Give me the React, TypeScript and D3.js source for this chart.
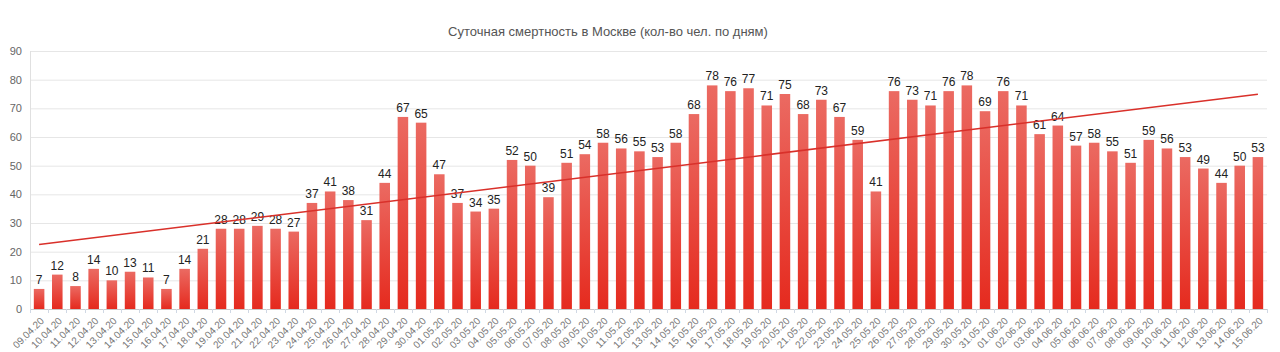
import React, { useEffect, useRef } from "react";
import * as d3 from "d3";

const dates = [
  "09.04.20", "10.04.20", "11.04.20", "12.04.20", "13.04.20", "14.04.20", "15.04.20", "16.04.20",
  "17.04.20", "18.04.20", "19.04.20", "20.04.20", "21.04.20", "22.04.20", "23.04.20", "24.04.20",
  "25.04.20", "26.04.20", "27.04.20", "28.04.20", "29.04.20", "30.04.20", "01.05.20", "02.05.20",
  "03.05.20", "04.05.20", "05.05.20", "06.05.20", "07.05.20", "08.05.20", "09.05.20", "10.05.20",
  "11.05.20", "12.05.20", "13.05.20", "14.05.20", "15.05.20", "16.05.20", "17.05.20", "18.05.20",
  "19.05.20", "20.05.20", "21.05.20", "22.05.20", "23.05.20", "24.05.20", "25.05.20", "26.05.20",
  "27.05.20", "28.05.20", "29.05.20", "30.05.20", "31.05.20", "01.06.20", "02.06.20", "03.06.20",
  "04.06.20", "05.06.20", "06.06.20", "07.06.20", "08.06.20", "09.06.20", "10.06.20", "11.06.20",
  "12.06.20", "13.06.20", "14.06.20", "15.06.20",
];

const deaths = [
  7, 12, 8, 14, 10, 13, 11, 7, 14, 21, 28, 28, 29, 28, 27, 37, 41, 38, 31, 44, 67, 65, 47, 37,
  34, 35, 52, 50, 39, 51, 54, 58, 56, 55, 53, 58, 68, 78, 76, 77, 71, 75, 68, 73, 67, 59, 41, 76,
  73, 71, 76, 78, 69, 76, 71, 61, 64, 57, 58, 55, 51, 59, 56, 53, 49, 44, 50, 53,
];

const yTicks = [0, 10, 20, 30, 40, 50, 60, 70, 80, 90];

const title = "Суточная смертность в Москве (кол-во чел. по дням)";

const App = () => {
  const svgRef = useRef<SVGSVGElement>(null);

  useEffect(() => {
    document.body.style.margin = "0";
    const W = 1280;
    const H = 352;
    const margin = { top: 51, right: 13, bottom: 43, left: 30 };
    const width = W - margin.left - margin.right;
    const height = H - margin.top - margin.bottom;

    const svg = d3.select(svgRef.current).attr("width", W).attr("height", H);
    svg.selectAll("*").remove();

    const defs = svg.append("defs");
    const grad = defs
      .append("linearGradient")
      .attr("id", "barGrad")
      .attr("x1", 0)
      .attr("y1", 0)
      .attr("x2", 0)
      .attr("y2", 1);
    grad.append("stop").attr("offset", "0%").attr("stop-color", "#eb6a62");
    grad.append("stop").attr("offset", "100%").attr("stop-color", "#e52a1e");

    const g = svg
      .append("g")
      .attr("transform", `translate(${margin.left},${margin.top})`);

    const x = d3.scaleBand().domain(dates).range([0, width]).paddingInner(0.42).paddingOuter(0.21);
    const y = d3.scaleLinear().domain([0, 90]).range([height, 0]);

    // grid
    g.selectAll(".grid")
      .data(yTicks)
      .enter()
      .append("line")
      .attr("x1", 0)
      .attr("x2", width)
      .attr("y1", (d) => y(d) + 0.5)
      .attr("y2", (d) => y(d) + 0.5)
      .attr("stroke", (d) => (d === 0 ? "#c8c8c8" : "#e6e6e6"))
      .attr("stroke-width", 1);

    g.append("line")
      .attr("x1", 0.5)
      .attr("x2", 0.5)
      .attr("y1", 0)
      .attr("y2", height)
      .attr("stroke", "#e0e0e0");

    g.selectAll(".ylab")
      .data(yTicks)
      .enter()
      .append("text")
      .attr("x", -8)
      .attr("y", (d) => y(d) + 4)
      .attr("text-anchor", "end")
      .attr("font-family", "Liberation Sans, Arial, sans-serif")
      .attr("font-size", "11px")
      .attr("fill", "#666")
      .text((d) => d);

    // x ticks between bars
    const step = x.step();
    g.selectAll(".xtick")
      .data(d3.range(dates.length + 1))
      .enter()
      .append("line")
      .attr("x1", (i) => Math.round(i * step) + 0.5)
      .attr("x2", (i) => Math.round(i * step) + 0.5)
      .attr("y1", height)
      .attr("y2", height + 4)
      .attr("stroke", "#d0d8e4");

    g.selectAll(".bar")
      .data(deaths)
      .enter()
      .append("rect")
      .attr("x", (d, i) => x(dates[i])!)
      .attr("y", (d) => y(d))
      .attr("width", x.bandwidth())
      .attr("height", (d) => height - y(d))
      .attr("fill", "url(#barGrad)");

    g.selectAll(".val")
      .data(deaths)
      .enter()
      .append("text")
      .attr("x", (d, i) => x(dates[i])! + x.bandwidth() / 2)
      .attr("y", (d) => y(d) - 5)
      .attr("text-anchor", "middle")
      .attr("font-family", "Liberation Sans, Arial, sans-serif")
      .attr("font-size", "12px")
      .attr("fill", "#222")
      .text((d) => d);

    g.selectAll(".xlab")
      .data(dates)
      .enter()
      .append("text")
      .attr(
        "transform",
        (d) => `translate(${x(d)! + x.bandwidth() / 2 + 3},${height + 10}) rotate(-45)`
      )
      .attr("text-anchor", "end")
      .attr("dy", "0.35em")
      .attr("font-family", "Liberation Sans, Arial, sans-serif")
      .attr("font-size", "10px")
      .attr("fill", "#777")
      .text((d) => d);

    // linear trend (least squares over the data)
    const idx = deaths.map((d, i) => i);
    const mx = d3.mean(idx)!;
    const my = d3.mean(deaths)!;
    const slope =
      d3.sum(idx, (i) => (i - mx) * (deaths[i] - my)) / d3.sum(idx, (i) => (i - mx) * (i - mx));
    const icpt = my - slope * mx;
    const trend = [0, dates.length - 1];
    g.append("line")
      .attr("x1", x(dates[trend[0]])! + x.bandwidth() / 2)
      .attr("y1", y(icpt + slope * trend[0]))
      .attr("x2", x(dates[trend[1]])! + x.bandwidth() / 2)
      .attr("y2", y(icpt + slope * trend[1]))
      .attr("stroke", "#d9302a")
      .attr("stroke-width", 1.5);

    svg
      .append("text")
      .attr("x", 608)
      .attr("y", 36)
      .attr("text-anchor", "middle")
      .attr("font-family", "Liberation Sans, Arial, sans-serif")
      .attr("font-size", "13px")
      .attr("fill", "#555")
      .text(title);
  }, []);

  return (
    <div style={{ position: "relative" }}>
      <svg ref={svgRef}></svg>
    </div>
  );
};

export default App;
